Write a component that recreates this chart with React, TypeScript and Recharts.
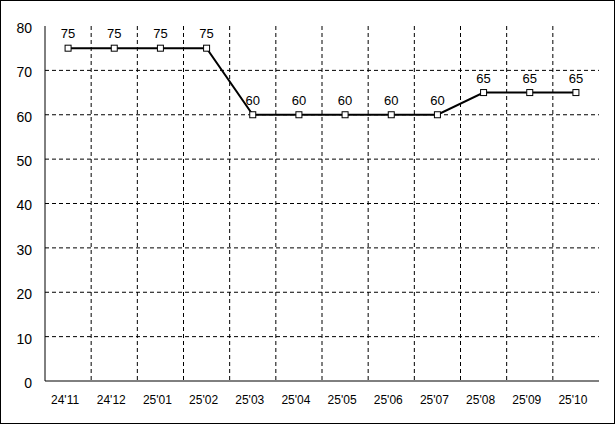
import React from "react";
import {
  LineChart,
  Line,
  XAxis,
  YAxis,
  CartesianGrid,
  LabelList,
} from "recharts";

const months = ["24'11", "24'12", "25'01", "25'02", "25'03", "25'04", "25'05", "25'06", "25'07", "25'08", "25'09", "25'10"];
const values = [75, 75, 75, 75, 60, 60, 60, 60, 60, 65, 65, 65];
const yTicks = [0, 10, 20, 30, 40, 50, 60, 70, 80];

const data = months.map((m, i) => ({ month: m, value: values[i] }));

const font = "'Liberation Sans', Arial, sans-serif";

const SquareDot = (props: any) => {
  const { cx, cy } = props;
  if (cx == null || cy == null) return null;
  return <rect x={cx - 3} y={cy - 3} width={6} height={6} fill="#fff" stroke="#000" strokeWidth={1} />;
};

const App: React.FC = () => {
  return (
    <div style={{ position: "absolute", left: 0, top: 0, width: 615, height: 424, background: "#fff", fontFamily: font }}>
      <LineChart width={615} height={424} data={data} margin={{ top: 26, right: 16, bottom: 13, left: 0 }}>
        <CartesianGrid
          stroke="#000"
          strokeDasharray="4 3"
          horizontalCoordinatesGenerator={({ offset }: any) =>
            yTicks.slice(1, -1).map((t) => offset.top + offset.height * (1 - t / 80))
          }
          verticalCoordinatesGenerator={({ offset }: any) =>
            months.slice(1).map((_, k) => offset.left + (offset.width * (k + 1)) / months.length)
          }
        />
        <XAxis
          dataKey="month"
          scale="band"
          height={30}
          axisLine={{ stroke: "#000" }}
          tickLine={false}
          tickSize={0}
          tickMargin={14}
          interval={0}
          tick={{ fill: "#000", fontSize: 12, fontFamily: font, dx: -3 }}
        />
        <XAxis xAxisId="top" orientation="top" dataKey="month" scale="band" height={0} tick={false} tickLine={false} axisLine={{ stroke: "#888" }} />
        <YAxis
          domain={[0, 80]}
          ticks={yTicks}
          width={45}
          axisLine={{ stroke: "#000" }}
          tickLine={false}
          tickSize={0}
          tickMargin={13}
          tick={{ fill: "#000", fontSize: 14, fontFamily: font, dy: 2 }}
        />
        <YAxis yAxisId="right" orientation="right" width={0} tick={false} tickLine={false} axisLine={{ stroke: "#888" }} />
        <Line
          dataKey="value"
          stroke="#000"
          strokeWidth={2}
          dot={<SquareDot />}
          activeDot={false}
          isAnimationActive={false}
        >
          <LabelList dataKey="value" position="top" offset={10} fill="#000" fontSize={13} fontFamily={font} />
        </Line>
      </LineChart>
      <div style={{ position: "absolute", inset: 0, border: "1px solid #000", pointerEvents: "none" }} />
    </div>
  );
};

export default App;
